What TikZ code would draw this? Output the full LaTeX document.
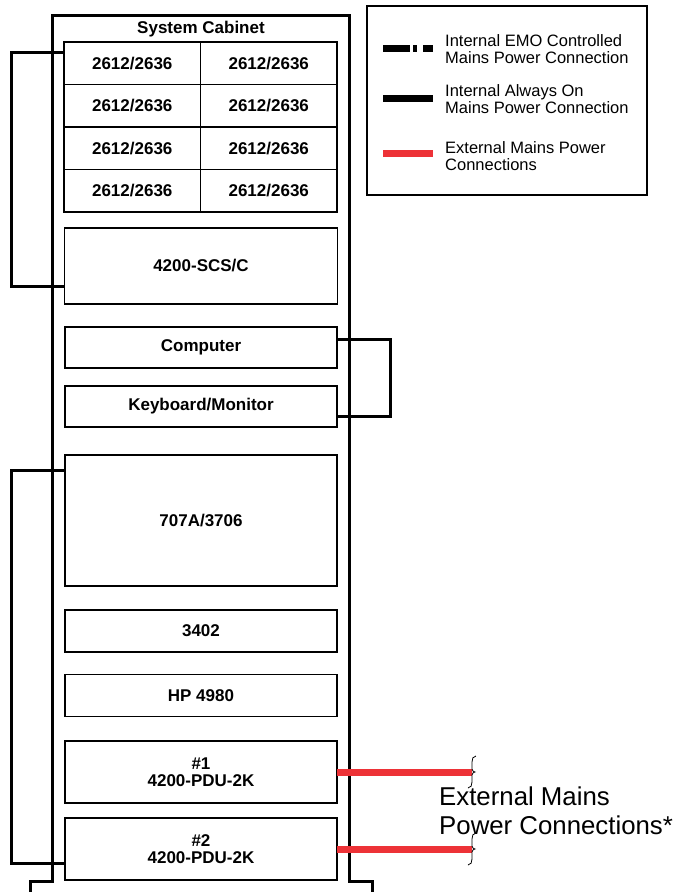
\documentclass[tikz,border=0pt]{standalone}
\usepackage{fontspec}
\setmainfont{Liberation Sans}
\usetikzlibrary{calc}
\definecolor{extred}{RGB}{237,50,55}
\begin{document}
\begin{tikzpicture}[x=1pt,y=-1pt,
  box/.style={draw, line width=1.5pt, rectangle, inner sep=0pt, outer sep=0pt,
    font=\fontsize{17}{17}\selectfont\bfseries, align=center},
  cell/.style={box, minimum width=136.5pt, minimum height=42.5pt},
  wide/.style={box, minimum width=272pt},
  conn/.style={line width=3pt, line join=miter},
  extline/.style={line width=7pt, draw=extred},
  legtext/.style={anchor=west, inner sep=0pt, align=left,
    font=\fontsize{16.5}{16.5}\selectfont},
  bracefine/.style={line width=0.8pt}
]
\useasboundingbox[fill=white] (0,0) rectangle (673,892);

% cabinet outline
\draw[line width=3pt, line join=miter] (30,892) -- (30,881) -- (52,881) -- (52,15) -- (349,15) -- (349,881) -- (372,881) -- (372,892);
\node[font=\fontsize{17}{17}\selectfont\bfseries, inner sep=0pt] (title) at (201,29) {System Cabinet};

% grid of 2612/2636
\foreach \r/\y in {1/63.25, 2/105.75, 3/148.25, 4/190.75}{
  \node[cell] (g\r1) at (132.25,\y) {2612/2636};
  \node[cell] (g\r2) at (268.75,\y) {2612/2636};
}

\node[box, minimum width=273pt, minimum height=76pt] (scs) at (201,266) {4200-SCS/C};
\node[wide, minimum height=41pt] (comp) at (201,347.5) {Computer};
\node[wide, minimum height=41pt] (kb) at (201,406.5) {Keyboard/Monitor};
\node[wide, minimum height=131pt] (k707) at (201,520.5) {707A/3706};
\node[wide, minimum height=42pt] (k3402) at (201,631) {3402};
\node[wide, minimum height=42pt] (hp) at (201,695.5) {HP 4980};
\node[wide, minimum height=62pt] (pdu1) at (201,772) {\#1\\4200-PDU-2K};
\node[wide, minimum height=62pt] (pdu2) at (201,849) {\#2\\4200-PDU-2K};

% internal connectors
\draw[conn] ($(g11.north west)+(0,10)$) -| ($(scs.west)+(-53.5,20)$) -- ($(scs.west)+(0,20)$);
\draw[conn] ($(comp.east)+(0,-8.5)$) -| ($(kb.east)+(53,9.5)$) -- ($(kb.east)+(0,9.5)$);
\draw[conn] ($(k707.north west)+(0,15)$) -| ($(pdu2.west)+(-54,14)$) -- ($(pdu2.west)+(0,14)$);

% external connections
\coordinate (e1) at (472,772);
\coordinate (e2) at (472,849);
\draw[extline] (pdu1.east) -- (e1);
\draw[extline] (pdu2.east) -- (e2);
\foreach \e in {e1,e2}{
  \draw[bracefine] ($(\e)+(4,-16)$) .. controls ($(\e)+(1,-16)$) and ($(\e)+(0,-13)$) .. ($(\e)+(0,-10)$)
    -- ($(\e)+(0,-3)$) .. controls ($(\e)+(0,-1)$) and ($(\e)+(2,0)$) .. ($(\e)+(3,0)$)
    .. controls ($(\e)+(2,0)$) and ($(\e)+(0,1)$) .. ($(\e)+(0,3)$)
    -- ($(\e)+(0,10)$) .. controls ($(\e)+(0,13)$) and ($(\e)+(-1,16)$) .. ($(\e)+(-4,16)$);
}
\node[anchor=west, inner sep=0pt, align=left, font=\fontsize{25.8}{28.5}\selectfont] (ext) at (439,811) {External Mains\\Power Connections*};

% legend
\node[draw, line width=1.4pt, minimum width=280pt, minimum height=189pt, inner sep=0pt] (legend) at (507,100.5) {};
\coordinate (l1a) at (383,48); \coordinate (l1b) at (433,48);
\coordinate (l2a) at (383,98); \coordinate (l2b) at (433,98);
\coordinate (l3a) at (383,153); \coordinate (l3b) at (433,153);
\draw[line width=7pt, dash pattern=on 27pt off 3pt on 4pt off 6pt] (l1a) -- (l1b);
\draw[line width=7pt] (l2a) -- (l2b);
\draw[extline] (l3a) -- (l3b);
\node[legtext] (t1) at (445,49) {Internal EMO Controlled\\Mains Power Connection};
\node[legtext] (t2) at (445,99) {Internal Always On\\Mains Power Connection};
\node[legtext] (t3) at (445,156) {External Mains Power\\Connections};
\end{tikzpicture}
\end{document}
